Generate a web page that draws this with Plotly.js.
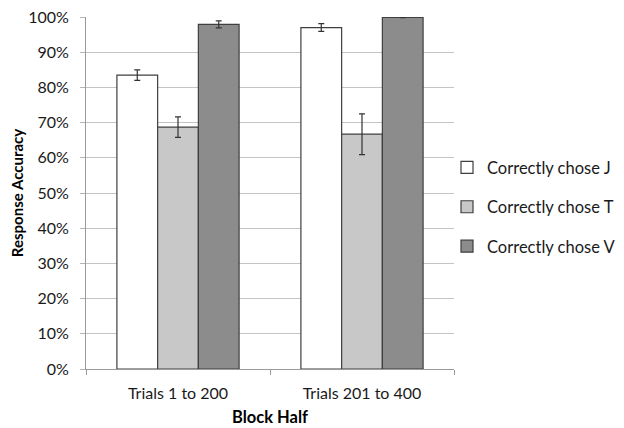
<!DOCTYPE html>
<html>
<head>
<meta charset="utf-8">
<script src="https://cdn.plot.ly/plotly-3.0.1.min.js"></script>
<style>
  html, body { margin: 0; padding: 0; background: #fff; }
  #chart { width: 624px; height: 428px; }
</style>
</head>
<body>
<div id="chart"></div>
<script>
// Block halves on the x axis
const blocks = ['Trials 1 to 200', 'Trials 201 to 400'];

// Mean response accuracy (fraction) per choice, per block half
const choseJ = [0.835, 0.970];
const choseT = [0.687, 0.667];
const choseV = [0.979, 0.999];

// Error bar half-widths (fraction)
const errJ = [0.015, 0.011];
const errT = [0.029, 0.058];
const errV = [0.010, 0.001];

const seriesNames = ['Correctly chose J', 'Correctly chose T', 'Correctly chose V'];

const fills = ['#ffffff', '#c8c8c8', '#8c8c8c'];
const outline = '#3f3f3f';

function barTrace(name, vals, errs, fill, group) {
  return {
    type: 'bar',
    name: name,
    x: blocks,
    y: vals,
    legendgroup: group,
    marker: { color: fill, line: { color: outline, width: 1.2 } },
    error_y: { type: 'data', array: errs, visible: true, color: '#333', thickness: 1.2, width: 3 },
    hoverinfo: 'skip'
  };
}

const data = [
  barTrace(seriesNames[0], choseJ, errJ, fills[0], 'j'),
  barTrace(seriesNames[1], choseT, errT, fills[1], 't'),
  barTrace(seriesNames[2], choseV, errV, fills[2], 'v')
];

const font = 'Lato, "Open Sans", "DejaVu Sans", sans-serif';

const layout = {
  width: 624,
  height: 428,
  margin: { l: 86, r: 170, t: 17, b: 59, autoexpand: false },
  paper_bgcolor: '#ffffff',
  plot_bgcolor: '#ffffff',
  font: { family: font, size: 16, color: '#1a1a1a' },
  barmode: 'group',
  bargap: 0.336,
  bargroupgap: 0,
  showlegend: true,
  legend: {
    x: 0.981, xanchor: 'left',
    y: 0.46, yanchor: 'middle',
    font: { family: font, size: 16.5, color: '#1a1a1a' },
    tracegroupgap: 15,
    itemwidth: 30,
    bgcolor: 'rgba(0,0,0,0)'
  },
  xaxis: {
    type: 'category',
    tickson: 'boundaries',
    ticks: 'outside',
    ticklen: 5,
    tickcolor: '#9a9a9a',
    ticklabelstandoff: 10,
    showline: true,
    linecolor: '#9a9a9a',
    linewidth: 1,
    showgrid: false,
    tickfont: { family: font, size: 16, color: '#1a1a1a' },
    title: { text: '<b>Block Half</b>', font: { family: font, size: 16.5, color: '#000' }, standoff: 10 }
  },
  yaxis: {
    range: [0, 1],
    tickvals: [0, 0.1, 0.2, 0.3, 0.4, 0.5, 0.6, 0.7, 0.8, 0.9, 1.0],
    tickformat: '.0%',
    ticks: 'outside',
    ticklen: 5,
    tickcolor: '#b4b4b4',
    ticklabelstandoff: 8,
    showline: true,
    linecolor: '#9a9a9a',
    linewidth: 1,
    showgrid: true,
    gridcolor: '#c4c4c4',
    gridwidth: 1,
    zeroline: false,
    tickfont: { family: font, size: 16, color: '#1a1a1a' },
    title: { text: '<b>Response Accuracy</b>', font: { family: font, size: 15, color: '#000' }, standoff: 0 }
  }
};

Plotly.newPlot('chart', data, layout, { displayModeBar: false, staticPlot: true });
</script>
</body>
</html>
